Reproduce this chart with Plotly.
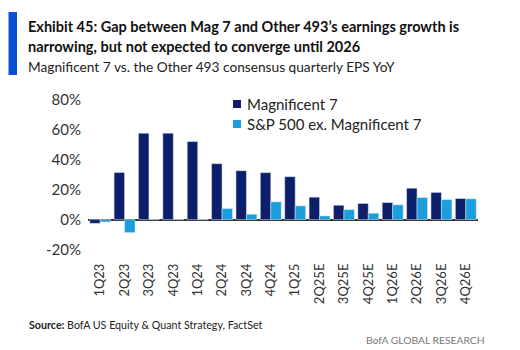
import plotly.graph_objects as go

quarters = ["1Q23", "2Q23", "3Q23", "4Q23", "1Q24", "2Q24", "3Q24", "4Q24", "1Q25",
            "2Q25E", "3Q25E", "4Q25E", "1Q26E", "2Q26E", "3Q26E", "4Q26E"]
mag7 = [-2.5, 31.5, 57.8, 57.8, 52.2, 37.4, 32.7, 31.4, 28.7, 15.0, 9.6, 10.8, 11.4, 21.0, 18.2, 14.1]
other493 = [-1.6, -8.7, 0.0, 0.0, 0.0, 7.4, 3.6, 11.9, 9.2, 2.5, 6.7, 4.3, 9.9, 14.8, 13.4, 13.9]
series_names = ["Magnificent 7", "S&P 500 ex. Magnificent 7"]
y_ticks = [-20, 0, 20, 40, 60, 80]
y_tick_labels = ["-20%", "0%", "20%", "40%", "60%", "80%"]

W, H = 520, 350
L, R, T, B = 88, 42, 88, 90
pw, ph = W - L - R, H - T - B

def px(x):
    return (x - L) / pw

def py(y):
    return (H - B - y) / ph

NAVY = "#0c1f6b"
LIGHT = "#1a9fdc"
FONT = "Lato"

fig = go.Figure()
fig.add_bar(x=quarters, y=mag7, name=series_names[0], marker_color=NAVY, showlegend=False)
fig.add_bar(x=quarters, y=other493, name=series_names[1], marker_color=LIGHT, showlegend=False)

shapes = [dict(type="rect", xref="paper", yref="paper",
               x0=px(8.5), x1=px(17), y0=py(75), y1=py(12),
               fillcolor="#0b50d0", line=dict(width=0))]
annotations = [
    dict(xref="paper", yref="paper", x=px(26), y=py(26), xanchor="left", yanchor="middle",
         text="<b>Exhibit 45: Gap between Mag 7 and Other 493’s earnings growth is</b>",
         showarrow=False, font=dict(size=14.5, color="#111111", family=FONT)),
    dict(xref="paper", yref="paper", x=px(26), y=py(46), xanchor="left", yanchor="middle",
         text="<b>narrowing, but not expected to converge until 2026</b>",
         showarrow=False, font=dict(size=14.5, color="#111111", family=FONT)),
    dict(xref="paper", yref="paper", x=px(26), y=py(66), xanchor="left", yanchor="middle",
         text="Magnificent 7 vs. the Other 493 consensus quarterly EPS YoY",
         showarrow=False, font=dict(size=13.7, color="#222222", family=FONT)),
    dict(xref="paper", yref="paper", x=px(27), y=py(324), xanchor="left", yanchor="middle",
         text="<b>Source:</b> BofA US Equity & Quant Strategy, FactSet",
         showarrow=False, font=dict(size=10.7, color="#222222", family=FONT)),
    dict(xref="paper", yref="paper", x=px(487), y=py(340), xanchor="right", yanchor="middle",
         text="BofA GLOBAL RESEARCH",
         showarrow=False, font=dict(size=10.3, color="#777777", family=FONT)),
]

# custom legend (squares + text)
for i, (name, col) in enumerate(zip(series_names, [NAVY, LIGHT])):
    yc = 104 + 20 * i
    shapes.append(dict(type="rect", xref="paper", yref="paper",
                       x0=px(233), x1=px(241), y0=py(yc + 4), y1=py(yc - 4),
                       fillcolor=col, line=dict(width=0)))
    annotations.append(dict(xref="paper", yref="paper", x=px(245), y=py(yc),
                            xanchor="left", yanchor="middle", text=name, showarrow=False,
                            font=dict(size=15, color="#222222", family=FONT)))

fig.update_layout(
    width=W, height=H,
    margin=dict(l=L, r=R, t=T, b=B),
    paper_bgcolor="white", plot_bgcolor="white",
    barmode="group", bargap=0.14, bargroupgap=0,
    font=dict(family=FONT, color="#333333", size=14),
    showlegend=False,
    xaxis=dict(tickangle=-90, showgrid=False, showline=False, ticks="",
               tickfont=dict(size=13, color="#333333")),
    yaxis=dict(range=[-27, 88], tickvals=y_ticks, ticktext=y_tick_labels,
               showgrid=False, zeroline=True, zerolinecolor="#333333", zerolinewidth=1.5,
               showline=False, ticks="", tickfont=dict(size=15, color="#333333"),
               ticklabelstandoff=6),
    shapes=shapes,
    annotations=annotations,
)

fig.write_html("out.html")
